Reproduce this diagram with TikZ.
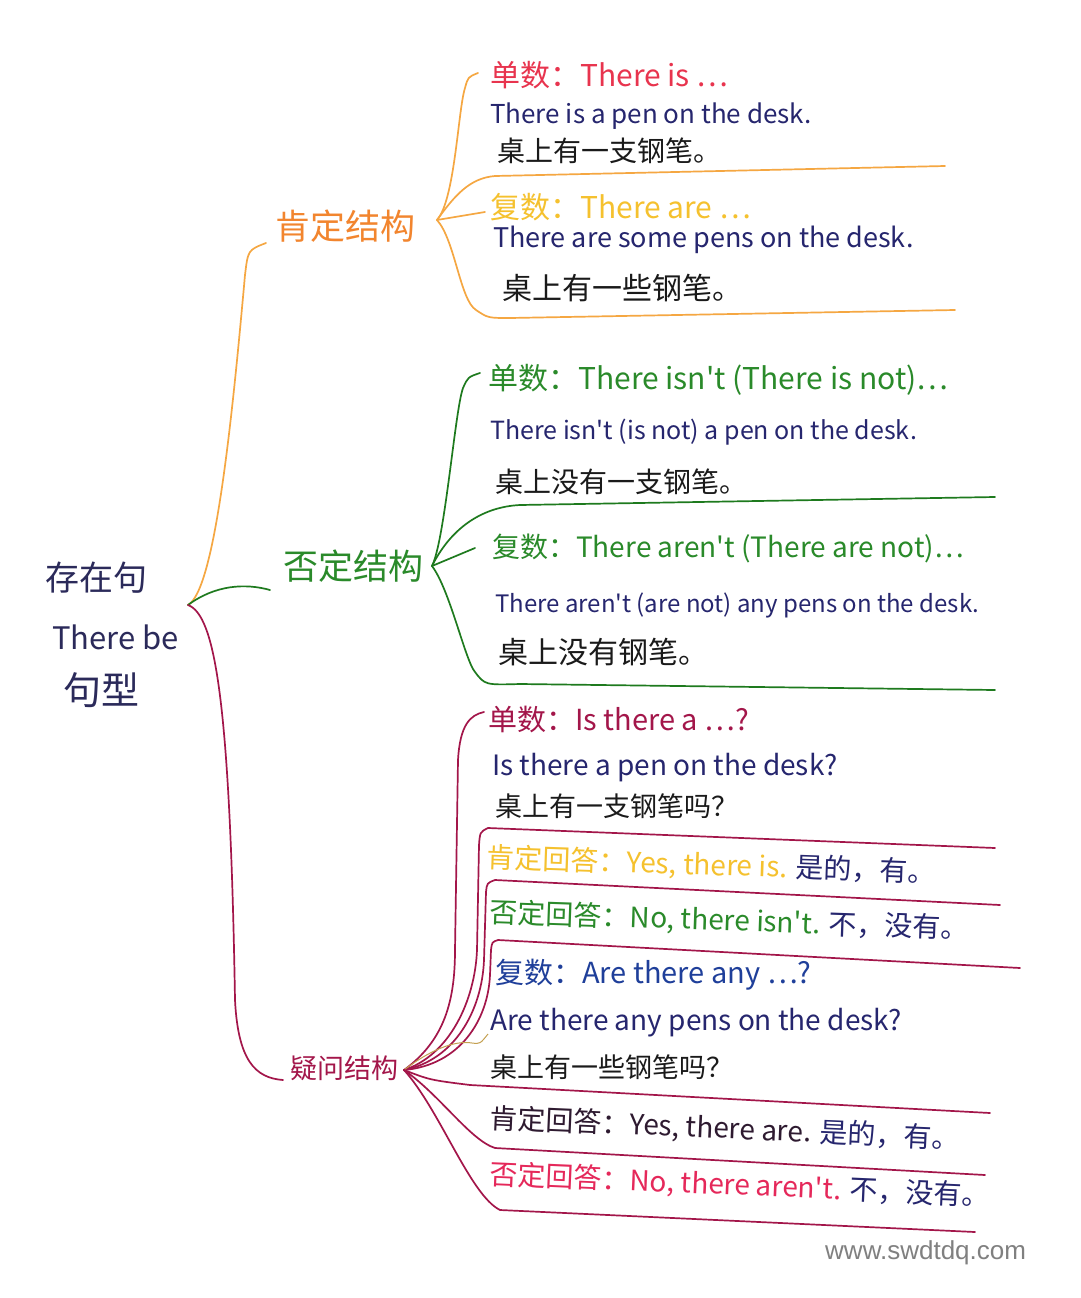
\documentclass[tikz,border=0pt]{standalone}
\usepackage{fontspec}
\setmainfont{Noto Sans CJK SC}[Ligatures=TeXOff]
\newfontfamily\wmfont{Liberation Sans}
\definecolor{rootink}{HTML}{2B2A5A}
\definecolor{orangeline}{HTML}{F5A742}
\definecolor{orangeink}{HTML}{F2852E}
\definecolor{redink}{HTML}{E8344E}
\definecolor{yellowink}{HTML}{F5C12E}
\definecolor{greenline}{HTML}{1E7A1E}
\definecolor{greenink}{HTML}{2A8A2A}
\definecolor{wine}{HTML}{A3164A}
\definecolor{navy}{HTML}{26266E}
\definecolor{blueink}{HTML}{1F3F9A}
\definecolor{plum}{HTML}{2E1A30}
\definecolor{pinkred}{HTML}{E5285A}
\definecolor{blackink}{HTML}{1A1A1A}
\definecolor{brownline}{HTML}{C4A050}

\begin{document}
\begin{tikzpicture}[x=1pt, y=-1pt,
  txt/.style={anchor=west, inner sep=0pt},
  fs/.style={font=\fontsize{#1}{#1}\selectfont},
  line/.style={line width=1.7pt, line cap=round, line join=round}]
\fill[white] (0,0) rectangle (1080,1298);

\node[txt, fs=34, text=rootink] (r1) at (45,578) {存在句};
\node[txt, fs=31, text=rootink] (r2) at (52,637) {There be};
\node[txt, fs=38, text=rootink] (r3) at (63,690) {句型};
\coordinate (root) at (188,605);

\node[txt, fs=35, text=orangeink] (pos) at (275,226) {肯定结构};
\node[txt, fs=35, text=greenink] (neg) at (283,566) {否定结构};
\node[txt, fs=27, text=wine] (que) at (290,1068) {疑问结构};
\coordinate (h1) at (437,220);
\coordinate (h2) at (432,566);
\coordinate (h3) at (404,1070);

\draw[line, orangeline] (root) .. controls (215,590) and (232,420) .. (245,275)
  .. controls (248,250) .. (266,243);
\draw[line, greenline] (root) .. controls (215,585) and (245,583) .. (270,590);
\draw[line, wine] (root) .. controls (215,615) and (230,700) .. (235,1000)
  .. controls (238,1060) and (255,1078) .. (283,1080);

\node[txt, fs=30, text=redink] (p1) at (490,75) {单数：There is …};
\node[txt, fs=26, text=navy] (p2) at (490,116) {There is a pen on the desk.};
\node[txt, fs=28, text=blackink] (p3) at (497,151) {桌上有一支钢笔。};
\node[txt, fs=30, text=yellowink] (p4) at (490,207) {复数：There are …};
\node[txt, fs=27, text=navy] (p5) at (493,240) {There are some pens on the desk.};
\node[txt, fs=30, text=blackink] (p6) at (502,288) {桌上有一些钢笔。};
\coordinate (o1) at (478,73);
\coordinate (o2) at (945,166);
\coordinate (o3) at (485,212);
\coordinate (o4) at (955,310);
\draw[line, orangeline] (h1) .. controls (455,200) and (458,110) .. (465,88)
  .. controls (468,77) .. (o1);
\draw[line, orangeline] (h1) .. controls (455,195) and (470,178) .. (495,176) -- (o2);
\draw[line, orangeline] (h1) -- (o3);
\draw[line, orangeline] (h1) .. controls (455,240) and (460,300) .. (476,310)
  .. controls (488,318) .. (510,318) -- (o4);

\node[txt, fs=30, text=greenink] (n1) at (488,380) {单数：There isn't (There is not)…};
\node[txt, fs=25, text=navy] (n2) at (490,432) {There isn't (is not) a pen on the desk.};
\node[txt, fs=28, text=blackink] (n3) at (495,482) {桌上没有一支钢笔。};
\node[txt, fs=28, text=greenink] (n4) at (492,548) {复数：There aren't (There are not)…};
\node[txt, fs=24, text=navy] (n5) at (495,605) {There aren't (are not) any pens on the desk.};
\node[txt, fs=30, text=blackink] (n6) at (498,652) {桌上没有钢笔。};
\coordinate (g1) at (480,373);
\coordinate (g2) at (995,497);
\coordinate (g3) at (475,548);
\coordinate (g4) at (995,690);
\draw[line, greenline] (h2) .. controls (445,540) and (455,410) .. (463,388)
  .. controls (468,377) .. (g1);
\draw[line, greenline] (h2) .. controls (450,530) and (480,507) .. (520,505) -- (g2);
\draw[line, greenline] (h2) -- (g3);
\draw[line, greenline] (h2) .. controls (450,590) and (465,660) .. (475,672)
  .. controls (485,685) .. (520,684) -- (g4);

\node[txt, fs=29, text=wine] (q1) at (488,720) {单数：Is there a …?};
\node[txt, fs=28, text=navy] (q2) at (492,768) {Is there a pen on the desk?};
\node[txt, fs=27, text=blackink] (q3) at (495,806) {桌上有一支钢笔吗？};
\node[txt, fs=28, rotate=-2] (q4) at (487,858) {\textcolor{yellowink}{肯定回答：Yes, there is.} \textcolor{navy}{是的，有。}};
\node[txt, fs=28, rotate=-2] (q5) at (490,913) {\textcolor{greenink}{否定回答：No, there isn't.} \textcolor{navy}{不，没有。}};
\node[txt, fs=29, text=blueink] (q6) at (495,975) {复数：Are there any …?};
\node[txt, fs=28, text=navy] (q7) at (490,1023) {Are there any pens on the desk?};
\node[txt, fs=27, text=blackink] (q8) at (490,1067) {桌上有一些钢笔吗？};
\node[txt, fs=28, rotate=-2.5] (q9) at (490,1119) {\textcolor{plum}{肯定回答：Yes, there are.} \textcolor{navy}{是的，有。}};
\node[txt, fs=28, rotate=-2.5] (q10) at (490,1175) {\textcolor{pinkred}{否定回答：No, there aren't.} \textcolor{navy}{不，没有。}};
\coordinate (w1) at (484,712);
\coordinate (w2) at (995,848);
\coordinate (w3) at (1000,905);
\coordinate (w4) at (1020,968);
\coordinate (w5) at (488,1034);
\coordinate (w6) at (990,1113);
\coordinate (w7) at (985,1175);
\coordinate (w8) at (975,1232);
\draw[line, wine] (h3) .. controls (445,1040) and (455,1000) .. (455,950)
  -- (458,760) .. controls (460,725) and (470,715) .. (w1);
\draw[line, wine] (h3) .. controls (450,1055) and (475,1000) .. (477,950)
  -- (479,845) .. controls (480,832) .. (488,828) -- (w2);
\draw[line, wine] (h3) .. controls (455,1060) and (482,1010) .. (484,960)
  -- (486,892) .. controls (487,883) .. (495,880) -- (w3);
\draw[line, wine] (h3) .. controls (460,1065) and (488,1020) .. (490,975)
  -- (491,950) .. controls (492,942) .. (498,940) -- (w4);
\draw[line width=1pt, brownline] (h3) .. controls (430,1050) and (455,1040) .. (472,1043)
  .. controls (480,1044) .. (w5);
\draw[line, wine] (h3) .. controls (430,1080) .. (470,1085) -- (w6);
\draw[line, wine] (h3) .. controls (440,1095) and (470,1140) .. (495,1148) -- (w7);
\draw[line, wine] (h3) .. controls (440,1110) and (470,1195) .. (500,1210) -- (w8);

\node[txt, text=gray, font=\wmfont\fontsize{26}{26}\selectfont] (wm) at (825,1253) {www.swdtdq.com};
\end{tikzpicture}
\end{document}
